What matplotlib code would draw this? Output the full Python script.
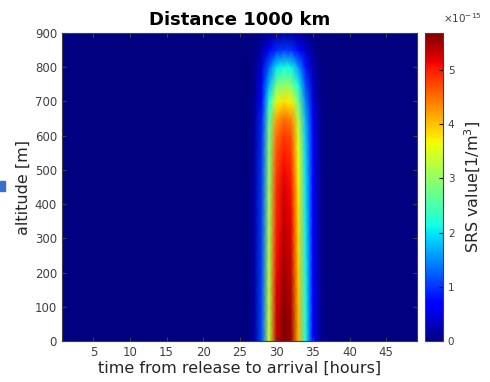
import numpy as np
import matplotlib
matplotlib.use("Agg")
import matplotlib.pyplot as plt
from matplotlib.patches import Rectangle

# hours after release (columns) and altitudes (rows)
hours = np.arange(1, 50)
altitude = np.arange(0, 901, 50)

# relative arrival profile in time
time_profile = np.zeros(len(hours))
time_profile[26:36] = [0.03, 0.2, 0.58, 0.93, 1.0, 0.97, 0.72, 0.38, 0.12, 0.02]  # hours 27..36

# relative vertical profile at the altitudes above
vert_profile = [1.0, 1.0, 0.99, 0.98, 0.97, 0.96, 0.95, 0.94, 0.93, 0.92,
                0.90, 0.88, 0.85, 0.79, 0.67, 0.52, 0.38, 0.18, 0.03]

peak = 5.68e-15
srs = peak * np.outer(vert_profile, time_profile)

fig = plt.figure(figsize=(4.9, 3.82), dpi=100)
ax = fig.add_axes([0.1265, 0.107, 0.7245, 0.8066])
cax = fig.add_axes([0.867, 0.107, 0.037, 0.8066])

ax.set_facecolor((0, 0, 0.5))
pc = ax.pcolormesh(hours, altitude, srs / 1e-15, shading='gouraud', cmap='jet',
                   vmin=0, vmax=peak / 1e-15)
ax.set_xlim(0.72, 49.2)
ax.set_ylim(0, 900)
ax.set_xticks(range(5, 50, 5))
ax.set_yticks(range(0, 901, 100))
ax.tick_params(direction='in', top=True, right=True, labelsize=8.5,
               labelcolor='#404040', color='#404040', length=3)
ax.set_xlabel('time from release to arrival [hours]', fontsize=11.5,
              color='#262626', labelpad=1)
ax.set_ylabel('altitude [m]', fontsize=11.5, color='#262626', labelpad=3)
ax.set_title('Distance 1000 km', fontsize=13, fontweight='bold', pad=6)
for s in ax.spines.values():
    s.set_color('#404040')

cb = fig.colorbar(pc, cax=cax)
cb.set_ticks([0, 1, 2, 3, 4, 5])
cb.ax.tick_params(labelsize=7.5, labelcolor='#404040', direction='in', length=3)
cb.set_label('SRS value[1/m$^3$]', fontsize=11.5, color='#262626', labelpad=6)
cb.outline.set_edgecolor('#404040')
cax.text(1.0, 1.025, r'$\times10^{-15}$', transform=cax.transAxes,
         fontsize=7.5, color='#404040', ha='left', va='bottom')

# small blue marker on the left edge
fig.patches.append(Rectangle((0.0, 0.50), 0.011, 0.026, transform=fig.transFigure,
                             color='#3a6fd0', zorder=5))

fig.savefig('out.png', dpi=100)
